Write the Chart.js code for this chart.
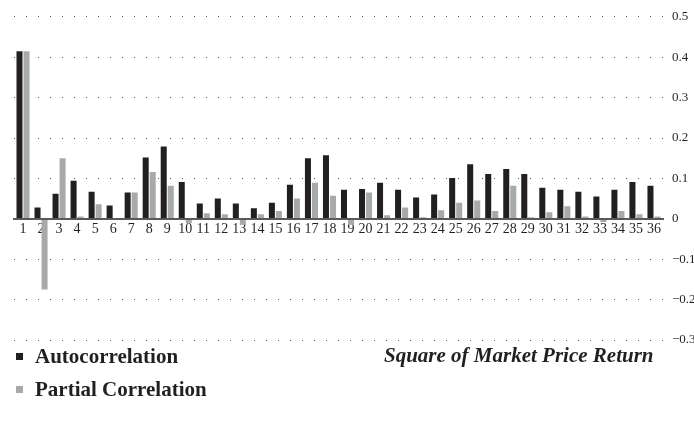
<!DOCTYPE html>
<html>
<head>
<meta charset="utf-8">
<script src="https://cdn.jsdelivr.net/npm/chart.js@4/dist/chart.umd.min.js"></script>
<style>
  html, body { margin: 0; padding: 0; background: #fff; }
  #wrap { position: relative; width: 694px; height: 430px; }
  #c { position: absolute; left: 0; top: 0; }
  .leg { position: absolute; left: 16px; font-family: "Liberation Serif", serif; font-weight: bold; font-size: 21px; line-height: 24px; color: #231f20; white-space: nowrap; }
  .sw { display: inline-block; width: 7px; height: 7px; margin-right: 12px; vertical-align: middle; position: relative; top: -2px; }
  #title { position: absolute; left: 384px; top: 343px; font-family: "Liberation Serif", serif; font-weight: bold; font-style: italic; font-size: 21px; line-height: 24px; color: #231f20; white-space: nowrap; }
</style>
</head>
<body>
<div id="wrap">
  <canvas id="c" width="694" height="430"></canvas>
  <div class="leg" style="top:344px"><span class="sw" style="background:#231f20"></span>Autocorrelation</div>
  <div class="leg" style="top:377px"><span class="sw" style="background:#a7a9ac"></span>Partial Correlation</div>
  <div id="title">Square of Market Price Return</div>
</div>
<script>
const categories = ['1','2','3','4','5','6','7','8','9','10','11','12','13','14','15','16','17','18','19','20','21','22','23','24','25','26','27','28','29','30','31','32','33','34','35','36'];
const autocorrelation = [0.415,0.028,0.062,0.094,0.067,0.033,0.065,0.152,0.179,0.091,0.038,0.050,0.038,0.026,0.040,0.084,0.150,0.157,0.072,0.074,0.089,0.072,0.053,0.060,0.101,0.135,0.111,0.123,0.111,0.077,0.072,0.067,0.055,0.072,0.091,0.082];
const partialCorrelation = [0.415,-0.175,0.150,0.006,0.036,0.001,0.065,0.116,0.082,-0.011,0.014,0.011,-0.015,0.011,0.019,0.050,0.089,0.057,-0.015,0.065,0.009,0.028,0.004,0.021,0.040,0.045,0.019,0.082,0.004,0.016,0.031,0.006,-0.008,0.019,0.011,0.006];
const yMin = -0.3, yMax = 0.5, yStep = 0.1;

new Chart(document.getElementById('c'), {
  type: 'bar',
  data: {
    labels: categories,
    datasets: [
      { label: 'Autocorrelation', data: autocorrelation, backgroundColor: '#231f20', categoryPercentage: 0.78, barPercentage: 0.857 },
      { label: 'Partial Correlation', data: partialCorrelation, backgroundColor: '#a7a9ac', categoryPercentage: 0.78, barPercentage: 0.857 }
    ]
  },
  options: {
    responsive: false,
    animation: false,
    layout: { padding: { left: 14, right: 0, top: 11, bottom: 90 } },
    plugins: { legend: { display: false }, tooltip: { enabled: false } },
    scales: {
      x: {
        position: { y: 0 },
        grid: { display: false, drawTicks: false },
        border: { display: true, color: '#58595b', width: 2, z: 1 },
        ticks: { color: '#231f20', padding: 2, maxRotation: 0, autoSkip: false, font: { family: 'Liberation Serif', size: 14 } },
        afterFit: s => { s.height = 0; }
      },
      y: {
        position: 'right',
        min: yMin, max: yMax,
        grid: {
          drawTicks: false,
          lineWidth: 1,
          color: ctx => (ctx.tick && Math.abs(ctx.tick.value) < 1e-9) ? 'rgba(0,0,0,0)' : '#555'
        },
        border: { display: false, dash: [1, 11] },
        ticks: {
          stepSize: yStep, padding: 9, color: '#231f20',
          font: { family: 'Liberation Serif', size: 13 },
          callback: v => { const r = Math.round(v * 10) / 10; if (r === 0) return '0'; return (r < 0 ? '\u2212' : '') + Math.abs(r).toFixed(1); }
        },
        afterFit: s => { s.width = 31; }
      }
    }
  }
});
</script>
</body>
</html>
